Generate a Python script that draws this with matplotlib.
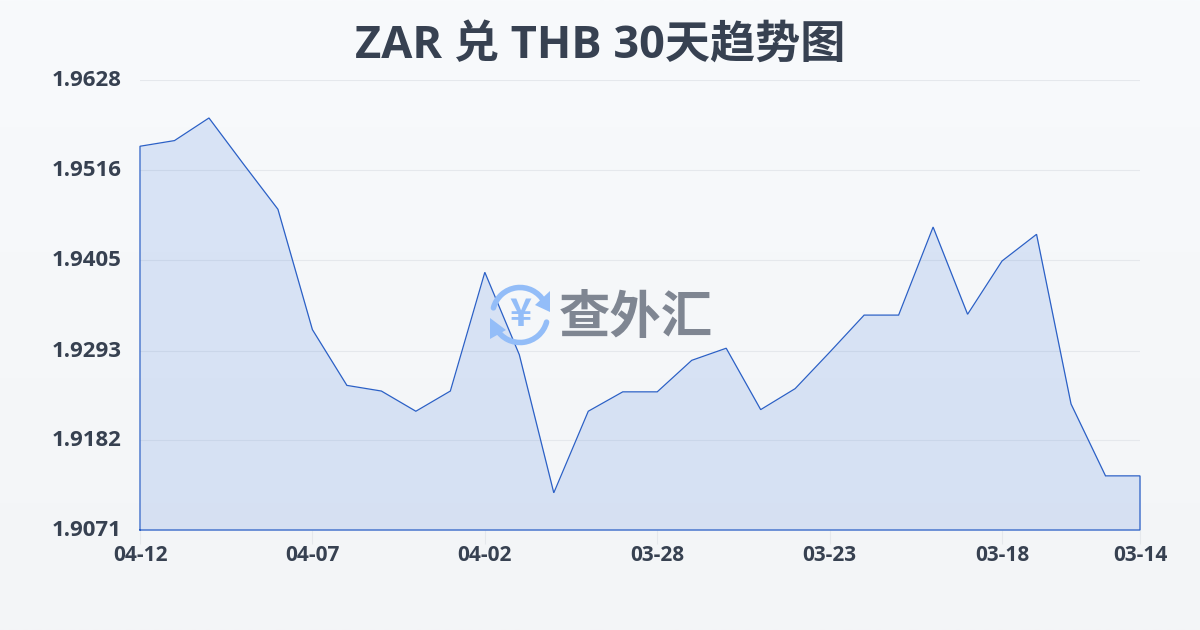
import numpy as np
import matplotlib
matplotlib.use('Agg')
import matplotlib.pyplot as plt
from matplotlib.patches import Arc, Polygon
from matplotlib.transforms import ScaledTranslation

plt.rcParams['font.family'] = ['Open Sans', 'Noto Sans CJK SC', 'DejaVu Sans']

title = 'ZAR 兑 THB 30天趋势图'
rates = [1.9546, 1.9553, 1.9581, 1.9524, 1.9468, 1.9319, 1.9250, 1.9243, 1.9218, 1.9243,
         1.9390, 1.9288, 1.9117, 1.9218, 1.9242, 1.9242, 1.9281, 1.9296, 1.9220, 1.9246,
         1.9291, 1.9337, 1.9337, 1.9446, 1.9338, 1.9404, 1.9437, 1.9227, 1.9138, 1.9138]
x_ticks = [0, 5, 10, 15, 20, 25, 29]
x_labels = ['04-12', '04-07', '04-02', '03-28', '03-23', '03-18', '03-14']
y_ticks = [1.9071, 1.9182, 1.9293, 1.9405, 1.9516, 1.9628]

text_col = '#374151'
line_col = '#2b60c6'
grid_col = '#e5e8ec'

fig = plt.figure(figsize=(12, 6.3), dpi=100)

# page background, vertical gradient
bg = fig.add_axes([0, 0, 1, 1], zorder=0)
bg.axis('off')
top = np.array([248, 250, 252]) / 255
bottom = np.array([243, 245, 247]) / 255
grad = np.linspace(0, 1, 256)[:, None, None]
bg.imshow(top * (1 - grad) + bottom * grad, aspect='auto', extent=[0, 1, 0, 1])

ax = fig.add_axes([140 / 1200, 100 / 630, 1000 / 1200, 450 / 630], zorder=1)
ax.patch.set_alpha(0)
x = np.arange(len(rates))
ax.set_xlim(0, len(rates) - 1)
ax.set_ylim(y_ticks[0], y_ticks[-1])

ax.grid(axis='y', color=grid_col, lw=0.8)
ax.set_axisbelow(True)
ax.fill_between(x, rates, y_ticks[0], color='#3f78dc', alpha=0.16, lw=0)
# outline goes round the whole area, as in the original
ax.plot(np.r_[x[0], x, x[-1], x[0]], np.r_[y_ticks[0], rates, y_ticks[0], y_ticks[0]],
        color=line_col, lw=0.9, clip_on=False, solid_joinstyle='miter')

for s in ax.spines.values():
    s.set_visible(False)
ax.set_xticks(x_ticks, x_labels)
ax.set_yticks(y_ticks, [f'{v:.4f}' for v in y_ticks])
ax.tick_params(axis='x', length=10, width=0.8, color=grid_col, labelcolor=text_col, labelsize=15, pad=1)
ax.tick_params(axis='y', length=0, labelcolor=text_col, labelsize=16, pad=13)
for t in ax.get_xticklabels() + ax.get_yticklabels():
    t.set_fontweight('bold')
# y labels sit a little above their gridlines
for t in ax.get_yticklabels():
    t.set_transform(t.get_transform() + ScaledTranslation(0, 2 / 100, fig.dpi_scale_trans))

fig.text(0.5, 1 - 46 / 630, title, ha='center', va='center', fontsize=32.5,
         fontweight='bold', color=text_col)

# watermark, in pixel coordinates
wm = fig.add_axes([0, 0, 1, 1], zorder=2)
wm.axis('off')
wm.set_xlim(0, 1200)
wm.set_ylim(630, 0)
logo = '#93bdf8'
wm.add_patch(Arc((520, 315), 55, 55, theta1=195, theta2=330, color=logo, lw=4, capstyle='round'))
wm.add_patch(Arc((520, 315), 55, 55, theta1=15, theta2=150, color=logo, lw=4, capstyle='round'))
wm.add_patch(Polygon([[550, 291], [550, 312], [535, 305]], color=logo, lw=0))
wm.add_patch(Polygon([[490, 318], [490, 339], [506, 330]], color=logo, lw=0))
wm.text(520, 314, '¥', ha='center', va='center', fontsize=27, fontweight='bold', color=logo,
        family=['Noto Sans CJK SC'])
wm.text(636, 317, '查外汇', ha='center', va='center', fontsize=37, fontweight='bold',
        color='#6b7280', alpha=0.85, family=['Noto Sans CJK SC'])

fig.savefig('out.png', dpi=100)
